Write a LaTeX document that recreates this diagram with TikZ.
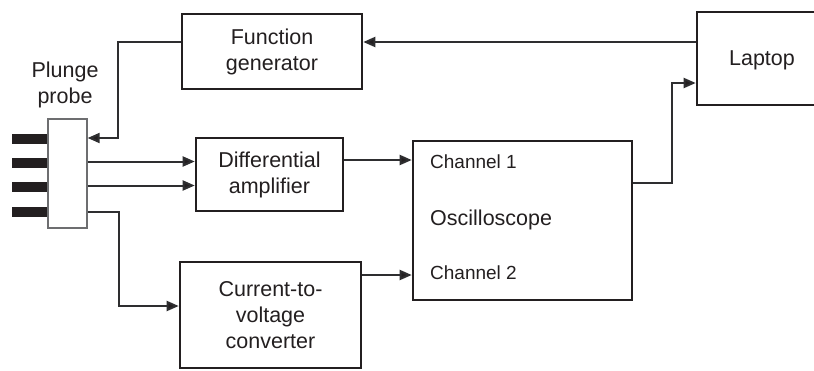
\documentclass[tikz,border=0pt]{standalone}
\usepackage{fontspec}
\setmainfont{Liberation Sans}
\usetikzlibrary{arrows.meta}

\definecolor{inkdark}{HTML}{231F20}
\definecolor{wiregray}{HTML}{2E2E30}
\definecolor{probegray}{HTML}{6D6E70}

\begin{document}
\begin{tikzpicture}[
  x=1pt, y=-1pt, font=\fontsize{21.5}{26}\selectfont, text=inkdark,
  block/.style={rectangle, draw=inkdark, line width=2.6pt, inner sep=0pt,
                align=center, fill=white},
  chan/.style={font=\fontsize{19}{22}\selectfont, anchor=west, inner sep=0pt},
  wire/.style={draw=wiregray, line width=2pt,
               -{Triangle[length=12pt,width=10pt,fill=inkdark]}},
  pinbar/.style={fill=inkdark}]

  \path[use as bounding box, clip] (0,0) rectangle (814,370);

  % ---- blocks -----------------------------------------------------------
  \node[block, minimum width=180pt, minimum height=75pt] (fgen) at (272,51.5)
    {Function\\generator};
  \node[block, minimum width=130pt, minimum height=93pt, text depth=-3pt]
    (laptop) at (762,58.5) {Laptop};
  \node[block, minimum width=147pt, minimum height=73pt] (diffamp) at (269.5,174.5)
    {Differential\\amplifier};
  \node[block, minimum width=181pt, minimum height=106pt] (conv) at (270.5,315)
    {Current-to-\\voltage\\converter};
  \node[block, minimum width=219pt, minimum height=159pt] (scope) at (522.5,220.5) {};
  \node[chan] (ch1) at (430,162) {Channel 1};
  \node[anchor=west, inner sep=0pt] (scopelab) at (430,220) {Oscilloscope};
  \node[chan] (ch2) at (430,273) {Channel 2};

  % ---- probe with its four pins -----------------------------------------
  \foreach \y in {139,163,187,212} {
    \fill[pinbar] (12,\y-5) rectangle (48,\y+5);
  }
  \node[rectangle, draw=probegray, line width=1.3pt, fill=white,
        minimum width=39pt, minimum height=109pt, inner sep=0pt]
    (probe) at (67.5,173.5) {};
  \node[align=center, inner sep=0pt] (probelab) at (65,85) {Plunge\\probe};

  \coordinate (pin0) at ([yshift=35.5pt]probe.east);
  \coordinate (pin1) at ([yshift=12pt]probe.east);
  \coordinate (pin2) at ([yshift=-12pt]probe.east);
  \coordinate (pin3) at ([yshift=-38.5pt]probe.east);

  % ---- connectors -------------------------------------------------------
  \draw[wire] ([yshift=16.5pt]laptop.west) -- ([yshift=16.5pt]laptop.west -| fgen.east);
  \draw[wire] ([yshift=9.5pt]fgen.west) -| ([xshift=30pt]pin0) -- (pin0);
  \draw[wire] (pin1) -- (pin1 -| diffamp.west);
  \draw[wire] (pin2) -- (pin2 -| diffamp.west);
  \draw[wire] (pin3) -- ++(31,0) |- ([yshift=9pt]conv.west);
  \draw[wire] ([yshift=14.5pt]diffamp.east) -- ([yshift=14.5pt]diffamp.east -| scope.west);
  \draw[wire] ([yshift=40pt]conv.east) -- ([yshift=40pt]conv.east -| scope.west);
  \draw[wire] ([yshift=37.5pt]scope.east) -- ++(39,0) |- ([yshift=-24.5pt]laptop.west);
\end{tikzpicture}
\end{document}
